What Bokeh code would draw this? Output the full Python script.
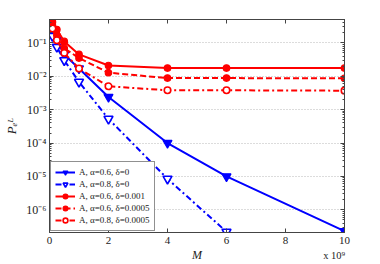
from bokeh.plotting import figure
from bokeh.models import (FixedTicker, LogAxis, LinearAxis, CustomJSTickFormatter,
                          Range1d, Legend)
from bokeh.embed import file_html
from bokeh.resources import INLINE

# ---- data (M in units of 1e9) ----
x_blue1 = [0.1, 0.25, 0.5, 1, 2, 4, 6, 10]
y_blue1 = [0.19, 0.12, 0.045, 0.017, 0.0024, 1.0e-4, 1.0e-5, 2.3e-7]

x_blue2 = [0.1, 0.25, 0.5, 1, 2, 4, 6]
y_blue2 = [0.16, 0.075, 0.03, 0.0068, 5.3e-4, 8.5e-6, 2.2e-7]

x_red = [0.1, 0.25, 0.5, 1, 2, 4, 6, 10]
y_red1 = [0.42, 0.25, 0.11, 0.045, 0.021, 0.0176, 0.0176, 0.0176]
y_red2 = [0.33, 0.17, 0.069, 0.035, 0.0128, 0.0088, 0.0088, 0.0087]
y_red3 = [0.27, 0.12, 0.05, 0.017, 0.005, 0.0038, 0.0038, 0.0037]

labels = ["A, \u03b1=0.6, \u03b4=0", "A, \u03b1=0.8, \u03b4=0",
          "A, \u03b1=0.6, \u03b4=0.001", "A, \u03b1=0.6, \u03b4=0.0005",
          "A, \u03b1=0.8, \u03b4=0.0005"]

x_ticks = [0, 2, 4, 6, 8, 10]
y_exps = [-6, -5, -4, -3, -2, -1]
y_tick_labels = ["10\u207b\u2076", "10\u207b\u2075", "10\u207b\u2074",
                 "10\u207b\u00b3", "10\u207b\u00b2", "10\u207b\u00b9"]
y_ticks = [10.0 ** e for e in y_exps]
y_minor = [k * 10.0 ** e for e in range(-7, 0) for k in range(2, 10)]

x_title = "M"
x_scale_text = "x 10\u2079"
y_title = "P\u2091\u1d38"

SERIF = "Liberation Serif"
BLUE = "#0000ff"
RED = "#ff0000"

p = figure(width=380, height=264, y_axis_type="log",
           x_range=Range1d(0, 10), y_range=Range1d(2.1e-7, 0.5),
           output_backend="svg", toolbar_location=None,
           min_border_left=49, min_border_right=36, min_border_top=19,
           min_border_bottom=31)
p.background_fill_color = "white"
p.border_fill_color = "white"
p.outline_line_color = "#444444"
p.outline_line_width = 1

# grids
p.xgrid.visible = False
p.ygrid.ticker = FixedTicker(ticks=y_ticks)
p.ygrid.grid_line_color = "#b8b8b8"
p.ygrid.grid_line_dash = "1 2"
p.ygrid.grid_line_width = 1

fmt = CustomJSTickFormatter(args=dict(exps=y_exps, labs=y_tick_labels), code="""
const e = Math.round(Math.log10(tick));
const i = exps.indexOf(e);
return i >= 0 ? labs[i] : "";
""")

def style_axis(ax, show_labels=True):
    ax.axis_line_color = "#444444"
    ax.major_tick_line_color = "#444444"
    ax.minor_tick_line_color = "#444444"
    ax.major_tick_in = 4
    ax.major_tick_out = 0
    ax.minor_tick_in = 2
    ax.minor_tick_out = 0
    ax.major_label_text_font = SERIF
    ax.major_label_text_color = "#222222"
    if show_labels:
        ax.major_label_text_font_size = "11px"
        ax.major_label_standoff = 4
    else:
        ax.major_label_text_font_size = "1px"
        ax.major_label_text_alpha = 0
        ax.major_label_standoff = 0

xa = p.xaxis[0]
xa.ticker = FixedTicker(ticks=x_ticks)
style_axis(xa)
ya = p.yaxis[0]
ya.ticker = FixedTicker(ticks=y_ticks, minor_ticks=y_minor)
ya.formatter = fmt
style_axis(ya)
ya.major_label_text_font_size = "12px"
ya.major_label_standoff = 3
ya.axis_label = y_title
ya.axis_label_text_font = SERIF
ya.axis_label_text_font_style = "italic"
ya.axis_label_text_font_size = "13px"
ya.axis_label_text_color = "#222222"
ya.axis_label_standoff = 4

top = LinearAxis(ticker=FixedTicker(ticks=x_ticks))
style_axis(top, False)
p.add_layout(top, "above")
right = LogAxis(ticker=FixedTicker(ticks=y_ticks, minor_ticks=y_minor))
style_axis(right, False)
p.add_layout(right, "right")

# second row under the x axis: "M" title and the "x 10^9" scale note
XSCALE_POS = 9.65
xb = LinearAxis(ticker=FixedTicker(ticks=[XSCALE_POS]))
xb.major_label_overrides = {XSCALE_POS: x_scale_text}
xb.axis_line_color = None
xb.major_tick_line_color = None
xb.minor_tick_line_color = None
xb.major_tick_in = 0
xb.major_tick_out = 0
xb.major_label_standoff = 3
xb.major_label_text_font = SERIF
xb.major_label_text_font_size = "10.5px"
xb.major_label_text_color = "#222222"
xb.axis_label = x_title
xb.axis_label_text_font = SERIF
xb.axis_label_text_font_style = "italic"
xb.axis_label_text_font_size = "12px"
xb.axis_label_text_color = "#222222"
xb.axis_label_standoff = -16
p.add_layout(xb, "below")

# ---- series ----
r1 = p.line(x_blue1, y_blue1, color=BLUE, line_width=2)
m1 = p.scatter(x_blue1, y_blue1, marker="inverted_triangle", size=9,
               fill_color=BLUE, line_color=BLUE, line_width=1.2)
r2 = p.line(x_blue2, y_blue2, color=BLUE, line_width=2, line_dash="6 3 2 3")
m2 = p.scatter(x_blue2, y_blue2, marker="inverted_triangle", size=9,
               fill_color="white", line_color=BLUE, line_width=1.6)
r3 = p.line(x_red, y_red1, color=RED, line_width=2)
m3 = p.scatter(x_red, y_red1, marker="circle", size=6.5,
               fill_color=RED, line_color=RED, line_width=1.2)
r4 = p.line(x_red, y_red2, color=RED, line_width=2, line_dash="6 3")
m4 = p.scatter(x_red, y_red2, marker="circle", size=6.5,
               fill_color=RED, line_color=RED, line_width=1.2)
r5 = p.line(x_red, y_red3, color=RED, line_width=2, line_dash="6 3 2 3")
m5 = p.scatter(x_red, y_red3, marker="circle", size=6.5,
               fill_color="white", line_color=RED, line_width=1.6)

legend = Legend(items=[(labels[0], [r1, m1]), (labels[1], [r2, m2]),
                       (labels[2], [r3, m3]), (labels[3], [r4, m4]),
                       (labels[4], [r5, m5])],
                location=(1, 1))
legend.label_text_font = SERIF
legend.label_text_font_size = "9px"
legend.label_text_color = "#222222"
legend.label_height = 12
legend.glyph_height = 12
legend.glyph_width = 20
legend.label_standoff = 4
legend.spacing = 0
legend.padding = 4
legend.margin = 0
legend.border_line_color = "#222222"
legend.border_line_width = 1.2
legend.background_fill_color = "white"
legend.background_fill_alpha = 1
p.add_layout(legend, "center")

open("out.html", "w").write(file_html(p, INLINE))
